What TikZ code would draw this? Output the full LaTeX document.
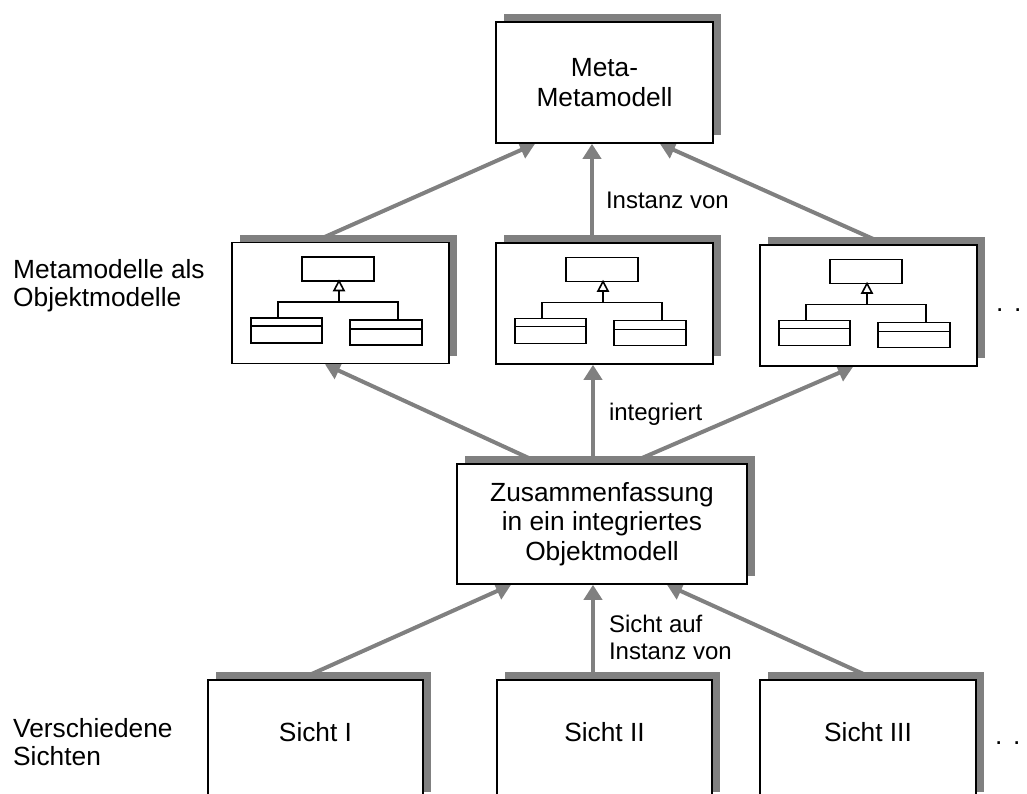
\documentclass[tikz,border=0pt]{standalone}
\usepackage{fontspec}
\setmainfont{Liberation Sans}
\usepackage{xcolor}
\usetikzlibrary{arrows.meta, calc, positioning, backgrounds, shadows}
\definecolor{shgray}{RGB}{128,128,128}

% small class diagram inside a metamodel box
\newcommand{\umlmini}[1]{%
  \begin{scope}[shift={(#1.center)}, line width=1.6pt]
    \draw (-38.5,-46) rectangle (33.5,-22);
    \draw (-1.5,-12.5) -- (-1.5,-1);
    \draw[fill=white] (-1.5,-22) -- (-6.5,-12.5) -- (3.5,-12.5) -- cycle;
    \draw (-62.5,15) -- (-62.5,-1) -- (57.5,-1) -- (57.5,17);
    \draw (-89.5,15) rectangle (-18.5,40);
    \draw (-89.5,23) -- (-18.5,23);
    \draw (9.5,17) rectangle (81.5,42);
    \draw (9.5,26) -- (81.5,26);
  \end{scope}}

\begin{document}
\begin{tikzpicture}[x=1pt, y=-1pt,
  box/.style={draw, line width=1.6pt, fill=white, minimum width=217pt, minimum height=121pt,
    inner sep=0pt, align=center, font=\fontsize{26.3}{29.5}\selectfont,
    general shadow={fill=shgray, shadow xshift=8pt, shadow yshift=8pt}},
  conn/.style={draw=shgray, line width=4pt, -{Triangle[length=15pt, width=18pt]}},
  elabel/.style={font=\fontsize{24}{27}\selectfont, align=left, inner sep=0pt, text=black},
  side/.style={font=\fontsize{26.3}{28}\selectfont, align=left, inner sep=0pt, anchor=west}]
\useasboundingbox (0,0) rectangle (1027,793);

% Meta-Metamodell
\node[box] (meta) at (604.5,82.5) {Meta-\\Metamodell};

% Metamodelle
\node[box] (mmL) at (340.5,303) {};
\node[box] (mmM) at (604.5,303.5) {};
\node[box] (mmR) at (868.5,305.5) {};
\umlmini{mmL}
\umlmini{mmM}
\umlmini{mmR}

% integriertes Objektmodell
\node[box, minimum width=290pt, minimum height=120pt] (integ) at (602,524)
  {Zusammenfassung\\in ein integriertes\\Objektmodell};

% Sichten
\node[box, minimum width=215pt, minimum height=120pt, text depth=16pt] (s1) at (315.5,740) {Sicht I};
\node[box, minimum width=215pt, minimum height=120pt, text depth=16pt] (s2) at (604.5,740) {Sicht II};
\node[box, minimum width=216pt, minimum height=120pt, text depth=16pt] (s3) at (868,740) {Sicht III};

% Side labels
\node[side] (lblmm) at (13,285.4) {Metamodelle als\\Objektmodelle};
\node[side] (lblsi) at (13,741.7) {Verschiedene\\Sichten};
\node[anchor=base west, inner sep=0pt, font=\fontsize{26.3}{29}\selectfont] (dots1) at (996,311) {.\hspace{0.4em}.};
\node[anchor=base west, inner sep=0pt, font=\fontsize{26.3}{29}\selectfont] (dots2) at (995,744) {.\hspace{0.4em}.};

% Connectors
\begin{scope}[on background layer]
\draw[conn] ([xshift=-26.5pt]mmL.north) -- ([xshift=-69.5pt]meta.south);
\draw[conn] ([xshift=-12.5pt]mmM.north) -- ([xshift=-12.5pt]meta.south)
  node[elabel, pos=0.43, right=12pt] {Instanz von};
\draw[conn] ([xshift=16.5pt]mmR.north) -- ([xshift=55.5pt]meta.south);

\draw[conn] ([xshift=-62pt]integ.north) -- ([xshift=-15.5pt]mmL.south);
\draw[conn] ([xshift=-9pt]integ.north) -- ([xshift=-11.5pt]mmM.south)
  node[elabel, pos=0.5, right=14pt] {integriert};
\draw[conn] ([xshift=28pt]integ.north) -- ([xshift=-15.5pt]mmR.south);

\draw[conn] ([xshift=-15.5pt]s1.north) -- ([xshift=-91pt]integ.south);
\draw[conn] ([xshift=-11.5pt]s2.north) -- ([xshift=-9pt]integ.south)
  node[elabel, pos=0.44, right=14pt] {Sicht auf\\Instanz von};
\draw[conn] ([xshift=7pt]s3.north) -- ([xshift=65pt]integ.south);
\end{scope}
\end{tikzpicture}
\end{document}
